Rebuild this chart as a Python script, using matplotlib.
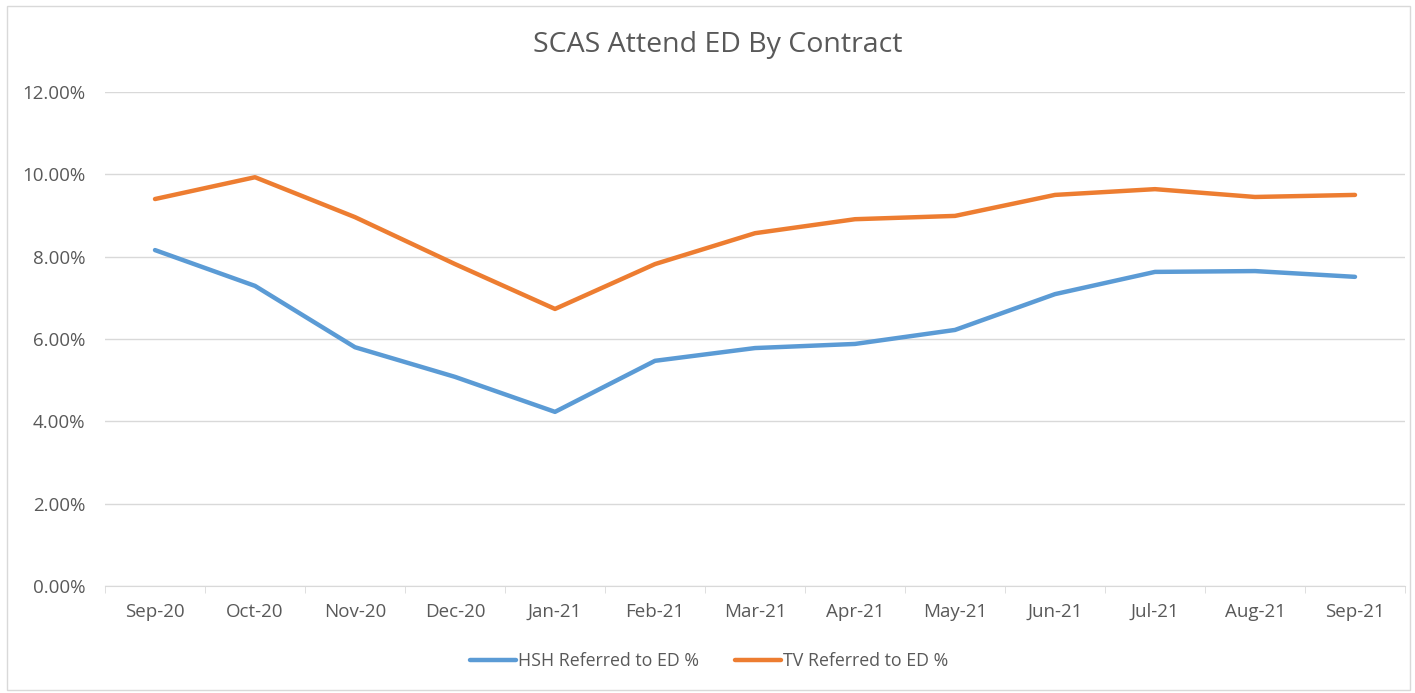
import matplotlib
matplotlib.use("Agg")
import matplotlib.pyplot as plt
from matplotlib.ticker import FuncFormatter, MultipleLocator
from matplotlib.patches import Rectangle

months = ["Sep-20", "Oct-20", "Nov-20", "Dec-20", "Jan-21", "Feb-21", "Mar-21",
          "Apr-21", "May-21", "Jun-21", "Jul-21", "Aug-21", "Sep-21"]
hsh = [8.16, 7.29, 5.80, 5.08, 4.23, 5.47, 5.78, 5.88, 6.22, 7.09, 7.63, 7.65, 7.51]
tv = [9.40, 9.93, 8.96, 7.82, 6.73, 7.82, 8.57, 8.91, 8.99, 9.50, 9.64, 9.45, 9.50]

plt.rcParams['font.family'] = ['Open Sans', 'DejaVu Sans']
txt = "#595959"
grid = "#d9d9d9"

fig = plt.figure(figsize=(14.15, 6.93), dpi=100)
fig.patches.append(Rectangle((7/1415, 3/693), 1403/1415, 684/693, transform=fig.transFigure,
                             fill=False, edgecolor="#d9d9d9", linewidth=1))
ax = fig.add_axes([105/1415, 1 - 586/693, 1300/1415, (586 - 92)/693])

x = list(range(len(months)))
l1, = ax.plot(x, [v / 100 for v in hsh], color="#5B9BD5", lw=3.2, solid_capstyle="round",
              label="HSH Referred to ED %")
l2, = ax.plot(x, [v / 100 for v in tv], color="#ED7D31", lw=3.2, solid_capstyle="round",
              label="TV Referred to ED %")

ax.set_xlim(-0.5, len(months) - 0.5)
ax.set_ylim(0, 0.12)
ax.yaxis.set_major_locator(MultipleLocator(0.02))
ax.yaxis.set_major_formatter(FuncFormatter(lambda v, p: f"{v*100:.2f}%"))
ax.grid(axis="y", color=grid, lw=1)
ax.set_axisbelow(True)
for s in ["top", "right", "left"]:
    ax.spines[s].set_visible(False)
ax.spines["bottom"].set_color(grid)
ax.set_xticks(x)
ax.set_xticklabels(months)
ax.set_xticks([i - 0.5 for i in range(len(months) + 1)], minor=True)
ax.tick_params(axis="x", which="major", length=0, pad=12, labelsize=13.5, labelcolor=txt)
ax.tick_params(axis="x", which="minor", length=5, color=grid)
ax.tick_params(axis="y", length=0, pad=14, labelsize=13.5, labelcolor=txt)

fig.text(0.5075, 1 - 45/693, "SCAS Attend ED By Contract", ha="center", va="center",
         fontsize=20.5, color=txt)
fig.legend(handles=[l1, l2], loc="center", bbox_to_anchor=(709/1415, 1 - 661/693), ncol=2,
           frameon=False, fontsize=12.8, labelcolor=txt, handlelength=2.6, handletextpad=0.1,
           columnspacing=2.0)

fig.savefig("out.png", dpi=100)
